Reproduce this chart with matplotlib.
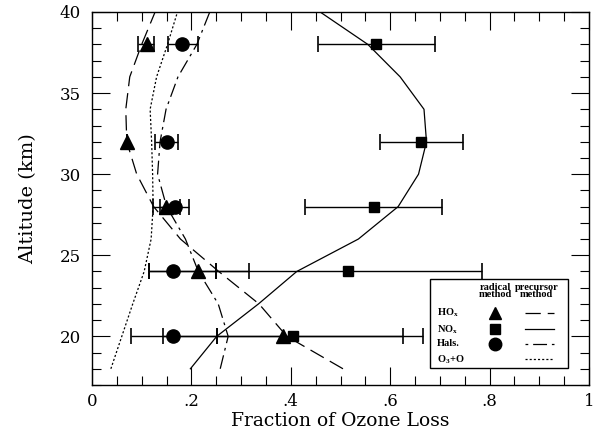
import numpy as np
import matplotlib
matplotlib.use('Agg')
import matplotlib.pyplot as plt
from matplotlib.ticker import MultipleLocator
from matplotlib.patches import Rectangle

plt.rcParams['font.family'] = ['DejaVu Serif']
plt.rcParams['lines.scale_dashes'] = False

# radical method measurements (altitude in km, fraction of ozone loss)
alt = [38, 32, 28, 24, 20]
hox_val = [0.110, 0.071, 0.149, 0.213, 0.384]
hox_lo = [0.093, 0.071, 0.123, 0.115, 0.142]
hox_hi = [0.125, 0.071, 0.177, 0.315, 0.626]
nox_val = [0.572, 0.662, 0.567, 0.516, 0.404]
nox_lo = [0.454, 0.579, 0.429, 0.249, 0.251]
nox_hi = [0.690, 0.746, 0.705, 0.784, 0.665]
hal_val = [0.182, 0.150, 0.167, 0.162, 0.164]
hal_lo = [0.152, 0.127, 0.137, 0.115, 0.078]
hal_hi = [0.213, 0.174, 0.196, 0.249, 0.251]

# precursor method profiles
prof_alt = [18, 20, 22, 24, 26, 28, 30, 32, 34, 36, 38, 40]
hox_curve = [0.505, 0.392, 0.336, 0.255, 0.178, 0.124, 0.090, 0.070, 0.068, 0.076, 0.100, 0.127]
nox_curve = [0.198, 0.251, 0.335, 0.412, 0.536, 0.616, 0.657, 0.673, 0.668, 0.620, 0.555, 0.459]
hal_curve = [0.258, 0.274, 0.254, 0.214, 0.188, 0.150, 0.132, 0.137, 0.149, 0.173, 0.211, 0.237]
ox_curve = [0.038, 0.060, 0.082, 0.105, 0.119, 0.123, 0.122, 0.120, 0.117, 0.130, 0.152, 0.172]

xtick_pos = [0, 0.2, 0.4, 0.6, 0.8, 1.0]
xtick_labels = ['0', '.2', '.4', '.6', '.8', '1']
ytick_pos = [20, 25, 30, 35, 40]

fig = plt.figure(figsize=(6, 4.34), dpi=100)
ax = fig.add_axes([0.1533, 0.1129, 0.8284, 0.8595])

lw = 0.9
dash_hox = (0, (11, 5))
dash_hal = (0, (10, 3.5, 2, 3.5))
dash_ox = (0, (1.5, 1.5))

ax.plot(hox_curve, prof_alt, color='black', lw=lw, linestyle=dash_hox)
ax.plot(nox_curve, prof_alt, color='black', lw=lw, linestyle='-')
ax.plot(hal_curve, prof_alt, color='black', lw=lw, linestyle=dash_hal)
ax.plot(ox_curve, prof_alt, color='black', lw=lw, linestyle=dash_ox)

def err(v, lo, hi):
    v = np.array(v); lo = np.array(lo); hi = np.array(hi)
    return [v - lo, hi - v]

ekw = dict(color='black', ecolor='black', elinewidth=1.0, capsize=6, capthick=1.2, linestyle='none')
ax.errorbar(nox_val, alt, xerr=err(nox_val, nox_lo, nox_hi), marker='s', ms=7, **ekw)
ax.errorbar(hox_val, alt, xerr=err(hox_val, hox_lo, hox_hi), marker='^', ms=10, **ekw)
ax.errorbar(hal_val, alt, xerr=err(hal_val, hal_lo, hal_hi), marker='o', ms=9.5, **ekw)

ax.set_xlim(0, 1)
ax.set_ylim(17, 40)
ax.set_xticks(xtick_pos)
ax.set_xticklabels(xtick_labels)
ax.set_yticks(ytick_pos)
ax.xaxis.set_minor_locator(MultipleLocator(0.05))
ax.yaxis.set_minor_locator(MultipleLocator(1))
ax.tick_params(which='both', direction='in', top=True, right=True, width=0.8, labelsize=12)
ax.tick_params(which='major', length=13)
ax.tick_params(axis='x', which='major', pad=6)
ax.tick_params(axis='y', which='major', pad=8)
ax.tick_params(which='minor', length=6.5)
for s in ax.spines.values():
    s.set_linewidth(1.0)

ax.set_xlabel('Fraction of Ozone Loss', fontsize=13.5, labelpad=1)
ax.set_ylabel('Altitude (km)', fontsize=14, labelpad=16)

# legend box, laid out by hand in axes fraction
tr = ax.transAxes
ax.add_patch(Rectangle((0.680, 0.046), 0.278, 0.238, transform=tr,
                       facecolor='white', edgecolor='black', lw=1.0, zorder=5))
tkw = dict(transform=tr, fontsize=7.5, fontweight='bold', family='Liberation Serif', zorder=6)
ax.text(0.811, 0.252, 'radical\nmethod', ha='center', va='center', linespacing=0.8, **tkw)
ax.text(0.895, 0.252, 'precursor\nmethod', ha='center', va='center', linespacing=0.8, **tkw)
rows = [0.194, 0.149, 0.110, 0.069]
names = [r'HO$_\mathregular{x}$', r'NO$_\mathregular{x}$', 'Hals.', r'O$_\mathregular{3}$+O']
marks = [('^', 9), ('s', 6.5), ('o', 9), None]
styles = [dash_hox, '-', (0, (2, 3.5, 10, 3.5)), dash_ox]
for yy, nm, mk, st in zip(rows, names, marks, styles):
    ax.text(0.694, yy, nm, ha='left', va='center', **tkw)
    if mk is not None:
        ax.plot([0.811], [yy], marker=mk[0], ms=mk[1], color='black', transform=tr,
                zorder=6, clip_on=False)
    ax.plot([0.871, 0.930], [yy, yy], color='black', lw=lw, linestyle=st,
            transform=tr, zorder=6)

fig.savefig('out.png', dpi=100)
